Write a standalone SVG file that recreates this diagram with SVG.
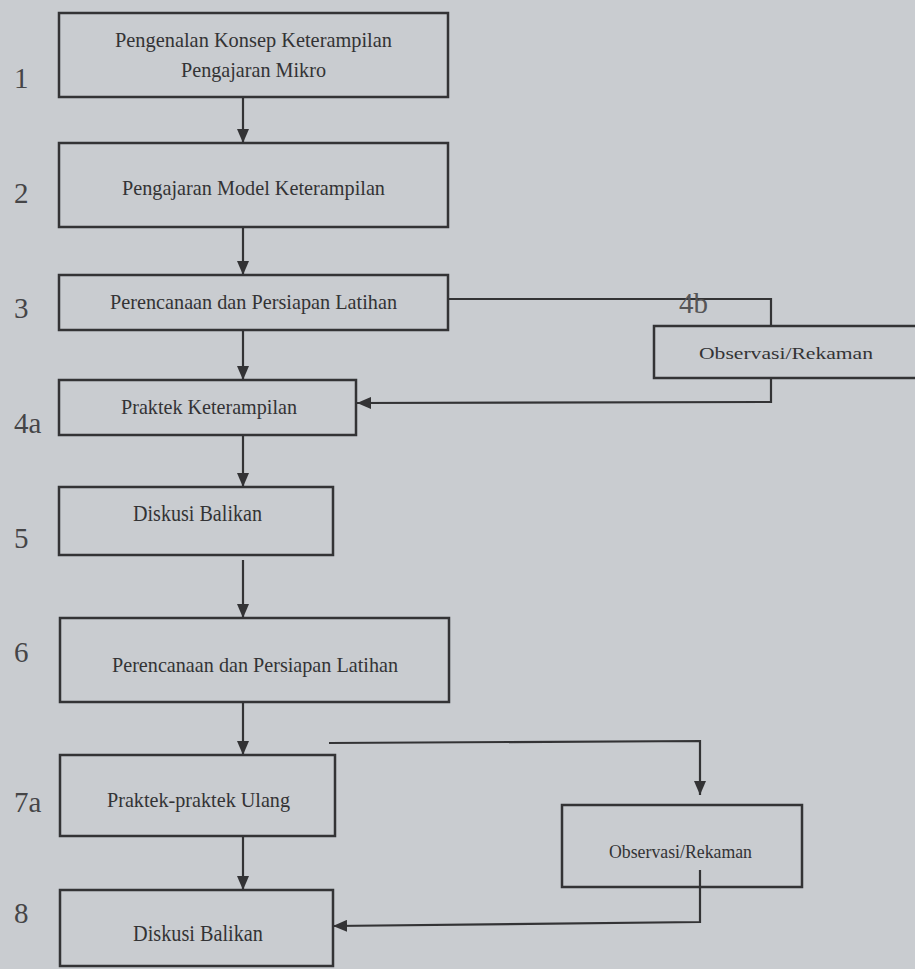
<svg xmlns="http://www.w3.org/2000/svg" width="915" height="969" viewBox="0 0 915 969">
<defs>
<style>
.box{fill:none;stroke:#333335;stroke-width:2.5}
.ln{fill:none;stroke:#333335;stroke-width:2.2}
.t{font-size:21px;fill:#333335;text-anchor:middle}
.num{font-size:29px;fill:#454547}
</style>
<marker id="ah" viewBox="0 0 14 12" refX="14" refY="6" markerWidth="14" markerHeight="12" markerUnits="userSpaceOnUse" orient="auto">
<path d="M0,0 L14,6 L0,12 Z" fill="#333335"/>
</marker>
</defs>
<rect width="915" height="969" fill="#c9ccd0"/>

<g id="labels" font-family="'Liberation Serif', 'DejaVu Serif', serif">
<text class="num" x="14" y="88">1</text>
<text class="num" x="14" y="203">2</text>
<text class="num" x="14" y="318">3</text>
<text class="num" x="14" y="433">4a</text>
<text class="num" x="14" y="548">5</text>
<text class="num" x="14" y="662">6</text>
<text class="num" x="14" y="812">7a</text>
<text class="num" x="14" y="923">8</text>
</g>

<g id="connectors">
<line class="ln" x1="243" y1="97" x2="243" y2="143" marker-end="url(#ah)"/>
<line class="ln" x1="243" y1="227" x2="243" y2="275" marker-end="url(#ah)"/>
<line class="ln" x1="243" y1="330" x2="243" y2="380" marker-end="url(#ah)"/>
<line class="ln" x1="243" y1="435" x2="243" y2="487" marker-end="url(#ah)"/>
<line class="ln" x1="243" y1="560" x2="243" y2="618" marker-end="url(#ah)"/>
<line class="ln" x1="243" y1="702" x2="243" y2="755" marker-end="url(#ah)"/>
<line class="ln" x1="243" y1="836" x2="243" y2="890" marker-end="url(#ah)"/>
<polyline class="ln" points="448,299 771,299 771,326"/>
<polyline class="ln" points="771,378 771,402 357,403" marker-end="url(#ah)"/>
<polyline class="ln" points="329,743 700,741 700,795" marker-end="url(#ah)"/>
<polyline class="ln" points="700,870 700,922 333,926" marker-end="url(#ah)"/>
<text x="679" y="313" font-family="'Liberation Serif', 'DejaVu Serif', serif" font-size="29" fill="#555557">4b</text>
</g>

<g font-family="'Liberation Serif', 'DejaVu Serif', serif">
<g id="n1">
<rect class="box" x="59" y="13" width="389" height="84"/>
<text class="t" x="253.5" y="47" textLength="277" lengthAdjust="spacingAndGlyphs">Pengenalan Konsep Keterampilan</text>
<text class="t" x="253.5" y="77" textLength="145" lengthAdjust="spacingAndGlyphs">Pengajaran Mikro</text>
</g>
<g id="n2">
<rect class="box" x="59" y="143" width="389" height="84"/>
<text class="t" x="253.5" y="195" textLength="263" lengthAdjust="spacingAndGlyphs">Pengajaran Model Keterampilan</text>
</g>
<g id="n3">
<rect class="box" x="59" y="275" width="389" height="55"/>
<text class="t" x="253.5" y="309" textLength="287" lengthAdjust="spacingAndGlyphs">Perencanaan dan Persiapan Latihan</text>
</g>
<g id="n4a">
<rect class="box" x="59" y="380" width="297" height="55"/>
<text class="t" x="209" y="414" textLength="176" lengthAdjust="spacingAndGlyphs">Praktek Keterampilan</text>
</g>
<g id="n4b">
<rect class="box" x="654" y="326" width="276" height="52"/>
<text class="t" x="786" y="359" textLength="174" lengthAdjust="spacingAndGlyphs" style="font-size:17px">Observasi/Rekaman</text>
</g>
<g id="n5">
<rect class="box" x="59" y="487" width="274" height="68"/>
<text class="t" x="197.5" y="521" textLength="129" lengthAdjust="spacingAndGlyphs" style="font-size:23px">Diskusi Balikan</text>
</g>
<g id="n6">
<rect class="box" x="60" y="618" width="389" height="84"/>
<text class="t" x="255" y="672" textLength="286" lengthAdjust="spacingAndGlyphs">Perencanaan dan Persiapan Latihan</text>
</g>
<g id="n7a">
<rect class="box" x="60" y="755" width="275" height="81"/>
<text class="t" x="198.5" y="807" textLength="183" lengthAdjust="spacingAndGlyphs">Praktek-praktek Ulang</text>
</g>
<g id="n7b">
<rect class="box" x="562" y="805" width="240" height="82"/>
<text class="t" x="680.5" y="858" textLength="143" lengthAdjust="spacingAndGlyphs" style="font-size:19px">Observasi/Rekaman</text>
</g>
<g id="n8">
<rect class="box" x="60" y="890" width="273" height="76"/>
<text class="t" x="198" y="941" textLength="130" lengthAdjust="spacingAndGlyphs" style="font-size:23px">Diskusi Balikan</text>
</g>
</g>
</svg>
